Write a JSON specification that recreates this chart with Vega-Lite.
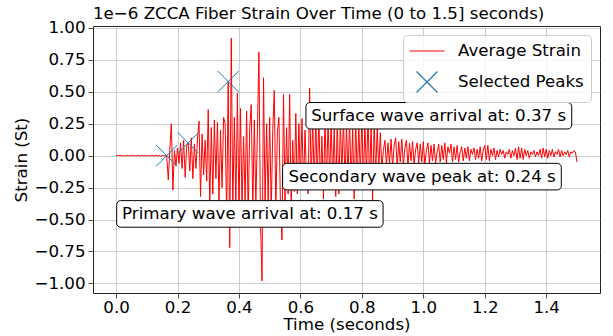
{
  "$schema": "https://vega.github.io/schema/vega-lite/v6.json",
  "autosize": {"type": "none"},
  "width": 507,
  "height": 267,
  "padding": {"left": 93, "top": 26, "right": 13, "bottom": 43},
  "title": {"text": "1e−6 ZCCA Fiber Strain Over Time (0 to 1.5] seconds)", "fontSize": 16.67, "fontWeight": "normal", "font": "DejaVu Sans", "color": "black", "frame": "group", "anchor": "start", "baseline": "alphabetic", "offset": -16},
  "config": {
    "font": "DejaVu Sans",
    "view": {"stroke": "#222", "strokeWidth": 1},
    "axis": {"labelFont": "DejaVu Sans", "titleFont": "DejaVu Sans", "labelFontSize": 16.67, "titleFontSize": 16.67, "titleFontWeight": "normal", "labelColor": "black", "titleColor": "black", "tickColor": "#222", "tickSize": 5, "tickWidth": 0.8, "labelPadding": 3, "labelOverlap": false, "domain": false, "grid": true, "gridColor": "#b0b0b0", "gridWidth": 0.8, "gridOpacity": 0.8}
  },
  "datasets": {
    "sig": [
      {"t":0.000,"s":0.000},{"t":0.005,"s":0.003},{"t":0.010,"s":-0.002},{"t":0.015,"s":0.004},{"t":0.020,"s":-0.003},{"t":0.025,"s":0.002},{"t":0.030,"s":-0.004},{"t":0.035,"s":0.003},{"t":0.040,"s":0.001},{"t":0.045,"s":-0.003},
      {"t":0.050,"s":0.004},{"t":0.055,"s":-0.002},{"t":0.060,"s":0.003},{"t":0.065,"s":-0.004},{"t":0.070,"s":0.002},{"t":0.075,"s":0.001},{"t":0.080,"s":-0.003},{"t":0.085,"s":0.004},{"t":0.090,"s":-0.002},{"t":0.095,"s":0.003},
      {"t":0.100,"s":-0.003},{"t":0.105,"s":0.002},{"t":0.110,"s":-0.004},{"t":0.115,"s":0.003},{"t":0.120,"s":0.001},{"t":0.125,"s":-0.002},{"t":0.130,"s":0.004},{"t":0.135,"s":-0.003},{"t":0.140,"s":0.002},{"t":0.145,"s":-0.004},
      {"t":0.150,"s":0.003},{"t":0.155,"s":-0.002},{"t":0.160,"s":0.001},{"t":0.165,"s":0.00},{"t":0.170,"s":-0.19},{"t":0.175,"s":0.05},{"t":0.180,"s":0.25},{"t":0.185,"s":-0.27},{"t":0.190,"s":0.04},{"t":0.195,"s":-0.08},
      {"t":0.200,"s":0.06},{"t":0.205,"s":-0.06},{"t":0.210,"s":0.10},{"t":0.215,"s":-0.10},{"t":0.220,"s":0.12},{"t":0.225,"s":-0.17},{"t":0.230,"s":0.08},{"t":0.235,"s":0.10},{"t":0.240,"s":-0.12},{"t":0.245,"s":0.14},
      {"t":0.250,"s":-0.18},{"t":0.255,"s":0.09},{"t":0.260,"s":-0.10},{"t":0.265,"s":0.13},{"t":0.270,"s":0.27},{"t":0.275,"s":-0.32},{"t":0.280,"s":0.17},{"t":0.285,"s":-0.15},{"t":0.290,"s":0.12},{"t":0.295,"s":-0.20},
      {"t":0.300,"s":0.36},{"t":0.305,"s":-0.40},{"t":0.310,"s":0.22},{"t":0.315,"s":-0.30},{"t":0.320,"s":0.28},{"t":0.325,"s":-0.18},{"t":0.330,"s":0.26},{"t":0.335,"s":-0.35},{"t":0.340,"s":0.20},{"t":0.345,"s":-0.25},
      {"t":0.350,"s":0.30},{"t":0.355,"s":0.25},{"t":0.360,"s":-0.48},{"t":0.365,"s":0.58},{"t":0.370,"s":-0.72},{"t":0.375,"s":0.92},{"t":0.380,"s":-0.42},{"t":0.385,"s":0.30},{"t":0.390,"s":-0.38},{"t":0.395,"s":0.49},
      {"t":0.400,"s":-0.45},{"t":0.405,"s":0.37},{"t":0.410,"s":-0.40},{"t":0.415,"s":0.15},{"t":0.420,"s":-0.35},{"t":0.425,"s":0.35},{"t":0.430,"s":-0.48},{"t":0.435,"s":0.22},{"t":0.440,"s":0.40},{"t":0.445,"s":-0.42},
      {"t":0.450,"s":0.28},{"t":0.455,"s":-0.38},{"t":0.460,"s":0.18},{"t":0.465,"s":0.81},{"t":0.470,"s":-0.50},{"t":0.475,"s":-0.98},{"t":0.480,"s":0.61},{"t":0.485,"s":-0.40},{"t":0.490,"s":0.25},{"t":0.495,"s":-0.36},
      {"t":0.500,"s":0.30},{"t":0.505,"s":-0.45},{"t":0.510,"s":0.20},{"t":0.515,"s":0.51},{"t":0.520,"s":-0.42},{"t":0.525,"s":0.18},{"t":0.530,"s":0.30},{"t":0.535,"s":-0.38},{"t":0.540,"s":-0.66},{"t":0.545,"s":0.48},
      {"t":0.550,"s":-0.36},{"t":0.555,"s":0.22},{"t":0.560,"s":-0.30},{"t":0.565,"s":0.48},{"t":0.570,"s":-0.40},{"t":0.575,"s":0.12},{"t":0.580,"s":-0.28},{"t":0.585,"s":0.33},{"t":0.590,"s":-0.30},{"t":0.595,"s":0.25},
      {"t":0.600,"s":-0.22},{"t":0.605,"s":0.29},{"t":0.610,"s":-0.26},{"t":0.615,"s":0.20},{"t":0.620,"s":-0.18},{"t":0.625,"s":-0.30},{"t":0.630,"s":0.53},{"t":0.635,"s":-0.22},{"t":0.640,"s":0.28},{"t":0.645,"s":-0.25},
      {"t":0.650,"s":0.30},{"t":0.655,"s":-0.20},{"t":0.660,"s":0.32},{"t":0.665,"s":-0.24},{"t":0.670,"s":0.15},{"t":0.675,"s":-0.34},{"t":0.680,"s":0.30},{"t":0.685,"s":-0.22},{"t":0.690,"s":0.28},{"t":0.695,"s":-0.18},
      {"t":0.700,"s":0.26},{"t":0.705,"s":-0.20},{"t":0.710,"s":0.22},{"t":0.715,"s":-0.32},{"t":0.720,"s":0.30},{"t":0.725,"s":-0.30},{"t":0.730,"s":0.27},{"t":0.735,"s":-0.15},{"t":0.740,"s":0.31},{"t":0.745,"s":-0.22},
      {"t":0.750,"s":0.24},{"t":0.755,"s":-0.18},{"t":0.760,"s":0.29},{"t":0.765,"s":-0.24},{"t":0.770,"s":0.22},{"t":0.775,"s":-0.34},{"t":0.780,"s":0.28},{"t":0.785,"s":-0.20},{"t":0.790,"s":0.25},{"t":0.795,"s":-0.16},
      {"t":0.800,"s":0.30},{"t":0.805,"s":-0.22},{"t":0.810,"s":0.26},{"t":0.815,"s":-0.18},{"t":0.820,"s":0.32},{"t":0.825,"s":-0.20},{"t":0.830,"s":0.24},{"t":0.835,"s":-0.35},{"t":0.840,"s":0.27},{"t":0.845,"s":-0.15},
      {"t":0.850,"s":0.22},{"t":0.855,"s":-0.12},{"t":0.860,"s":0.18},{"t":0.865,"s":-0.10},{"t":0.870,"s":0.04},{"t":0.875,"s":0.12},{"t":0.880,"s":-0.08},{"t":0.885,"s":0.10},{"t":0.890,"s":-0.06},{"t":0.895,"s":0.13},
      {"t":0.900,"s":-0.09},{"t":0.905,"s":0.08},{"t":0.910,"s":0.14},{"t":0.915,"s":-0.10},{"t":0.920,"s":0.11},{"t":0.925,"s":-0.05},{"t":0.930,"s":0.13},{"t":0.935,"s":-0.08},{"t":0.940,"s":0.06},{"t":0.945,"s":0.12},
      {"t":0.950,"s":-0.09},{"t":0.955,"s":0.10},{"t":0.960,"s":-0.04},{"t":0.965,"s":0.11},{"t":0.970,"s":-0.07},{"t":0.975,"s":0.05},{"t":0.980,"s":0.10},{"t":0.985,"s":-0.06},{"t":0.990,"s":0.09},{"t":0.995,"s":-0.05},
      {"t":1.000,"s":0.11},{"t":1.005,"s":-0.07},{"t":1.010,"s":0.04},{"t":1.015,"s":0.10},{"t":1.020,"s":-0.06},{"t":1.025,"s":0.08},{"t":1.030,"s":-0.04},{"t":1.035,"s":0.09},{"t":1.040,"s":-0.06},{"t":1.045,"s":0.03},
      {"t":1.050,"s":0.09},{"t":1.055,"s":-0.05},{"t":1.060,"s":0.08},{"t":1.065,"s":-0.03},{"t":1.070,"s":0.10},{"t":1.075,"s":-0.06},{"t":1.080,"s":0.07},{"t":1.085,"s":0.02},{"t":1.090,"s":0.09},{"t":1.095,"s":-0.05},
      {"t":1.100,"s":0.07},{"t":1.105,"s":-0.03},{"t":1.110,"s":0.08},{"t":1.115,"s":-0.05},{"t":1.120,"s":0.03},{"t":1.125,"s":0.07},{"t":1.130,"s":-0.04},{"t":1.135,"s":0.06},{"t":1.140,"s":-0.02},{"t":1.145,"s":0.07},
      {"t":1.150,"s":-0.04},{"t":1.155,"s":0.05},{"t":1.160,"s":0.01},{"t":1.165,"s":0.06},{"t":1.170,"s":-0.03},{"t":1.175,"s":0.05},{"t":1.180,"s":-0.02},{"t":1.185,"s":0.07},{"t":1.190,"s":-0.04},{"t":1.195,"s":0.04},
      {"t":1.200,"s":0.08},{"t":1.205,"s":-0.03},{"t":1.210,"s":0.08},{"t":1.215,"s":-0.04},{"t":1.220,"s":0.05},{"t":1.225,"s":0.00},{"t":1.230,"s":0.06},{"t":1.235,"s":-0.03},{"t":1.240,"s":0.04},{"t":1.245,"s":-0.01},
      {"t":1.250,"s":0.05},{"t":1.255,"s":0.01},{"t":1.260,"s":0.04},{"t":1.265,"s":-0.02},{"t":1.270,"s":0.03},{"t":1.275,"s":0.01},{"t":1.280,"s":0.05},{"t":1.285,"s":-0.02},{"t":1.290,"s":0.04},{"t":1.295,"s":0.00},
      {"t":1.300,"s":0.06},{"t":1.305,"s":-0.03},{"t":1.310,"s":0.07},{"t":1.315,"s":-0.02},{"t":1.320,"s":0.06},{"t":1.325,"s":-0.03},{"t":1.330,"s":0.05},{"t":1.335,"s":0.00},{"t":1.340,"s":0.04},{"t":1.345,"s":-0.02},
      {"t":1.350,"s":0.03},{"t":1.355,"s":0.01},{"t":1.360,"s":0.04},{"t":1.365,"s":-0.01},{"t":1.370,"s":0.03},{"t":1.375,"s":0.00},{"t":1.380,"s":0.05},{"t":1.385,"s":-0.02},{"t":1.390,"s":0.06},{"t":1.395,"s":-0.01},
      {"t":1.400,"s":0.05},{"t":1.405,"s":-0.02},{"t":1.410,"s":0.04},{"t":1.415,"s":0.00},{"t":1.420,"s":0.05},{"t":1.425,"s":-0.01},{"t":1.430,"s":0.03},{"t":1.435,"s":0.01},{"t":1.440,"s":0.05},{"t":1.445,"s":-0.01},
      {"t":1.450,"s":0.04},{"t":1.455,"s":0.00},{"t":1.460,"s":0.03},{"t":1.465,"s":0.01},{"t":1.470,"s":0.04},{"t":1.475,"s":-0.01},{"t":1.480,"s":0.03},{"t":1.485,"s":0.02},{"t":1.490,"s":0.04},{"t":1.495,"s":0.03},
      {"t":1.500,"s":-0.05}
    ],
    "peaks": [
      {"t":0.165,"s":0.00},{"t":0.235,"s":0.10},{"t":0.365,"s":0.58}
    ],
    "notes": [
      {"label":"Surface wave arrival at: 0.37 s","tx":1.050,"ty":0.3125,"x1":0.618,"x2":1.483,"y1":0.416,"y2":0.209},
      {"label":"Secondary wave peak at: 0.24 s","tx":0.996,"ty":-0.164,"x1":0.542,"x2":1.449,"y1":-0.060,"y2":-0.268},
      {"label":"Primary wave arrival at: 0.17 s","tx":0.436,"ty":-0.456,"x1":0.002,"x2":0.869,"y1":-0.352,"y2":-0.560}
    ]
  },
  "layer": [
    {
      "data": {"name": "sig"},
      "mark": {"type": "line", "strokeWidth": 1, "strokeJoin": "round"},
      "encoding": {
        "x": {"field": "t", "type": "quantitative", "scale": {"domain": [-0.075, 1.575], "nice": false, "zero": false}, "axis": {"values": [0, 0.2, 0.4, 0.6, 0.8, 1.0, 1.2, 1.4], "format": ".1f", "title": "Time (seconds)", "labelPadding": 1, "titlePadding": 1}},
        "y": {"field": "s", "type": "quantitative", "scale": {"domain": [-1.075, 1.015], "nice": false, "zero": false}, "axis": {"values": [-1, -0.75, -0.5, -0.25, 0, 0.25, 0.5, 0.75, 1], "format": ".2f", "title": "Strain (St)", "titlePadding": 3, "labelOverlap": false, "tickCount": 9}},
        "color": {"datum": "Average Strain", "type": "nominal", "scale": {"domain": ["Average Strain", "Selected Peaks"], "range": ["#ff0000", "#1f77b4"]},
          "legend": {"title": null, "orient": "top-right", "offset": 9, "padding": 7, "symbolOffset": 8, "labelOffset": 22, "symbolSize": 256, "rowPadding": 9, "labelFontSize": 16.67, "labelFont": "DejaVu Sans", "labelColor": "black", "labelLimit": 300, "strokeColor": "#cccccc", "fillColor": "rgba(255,255,255,0.8)", "cornerRadius": 4,
            "encode": {"symbols": {"update": {
              "shape": {"signal": "datum.value == 'Average Strain' ? 'M-2.19,0L2.19,0' : 'M-1.31,-1.31L1.31,1.31M-1.31,1.31L1.31,-1.31'"},
              "fill": {"value": "transparent"},
              "stroke": {"signal": "datum.value == 'Average Strain' ? '#ff0000' : '#1f77b4'"},
              "strokeWidth": {"value": 1.2},
              "opacity": {"value": 1}
            }}}
          }
        }
      }
    },
    {
      "data": {"name": "peaks"},
      "mark": {"type": "point", "shape": "M-1,-1L1,1M-1,1L1,-1", "size": 441, "filled": false, "strokeWidth": 1, "opacity": 1},
      "encoding": {
        "x": {"field": "t", "type": "quantitative", "axis": {"values": [0, 0.2, 0.4, 0.6, 0.8, 1.0, 1.2, 1.4], "format": ".1f", "title": "Time (seconds)", "labelPadding": 1, "titlePadding": 1}},
        "y": {"field": "s", "type": "quantitative", "axis": {"values": [-1, -0.75, -0.5, -0.25, 0, 0.25, 0.5, 0.75, 1], "format": ".2f", "title": "Strain (St)", "titlePadding": 3, "labelOverlap": false, "tickCount": 9}},
        "color": {"datum": "Selected Peaks", "type": "nominal"}
      }
    },
    {
      "data": {"name": "notes"},
      "mark": {"type": "rect", "fill": "white", "stroke": "black", "strokeWidth": 1, "cornerRadius": 4},
      "encoding": {
        "x": {"field": "x1", "type": "quantitative", "axis": {"values": [0, 0.2, 0.4, 0.6, 0.8, 1.0, 1.2, 1.4], "format": ".1f", "title": "Time (seconds)", "labelPadding": 1, "titlePadding": 1}},
        "x2": {"field": "x2"},
        "y": {"field": "y1", "type": "quantitative", "axis": {"values": [-1, -0.75, -0.5, -0.25, 0, 0.25, 0.5, 0.75, 1], "format": ".2f", "title": "Strain (St)", "titlePadding": 3, "labelOverlap": false, "tickCount": 9}},
        "y2": {"field": "y2"}
      }
    },
    {
      "data": {"name": "notes"},
      "mark": {"type": "text", "fontSize": 16.67, "font": "DejaVu Sans", "color": "black", "align": "center", "baseline": "middle"},
      "encoding": {
        "x": {"field": "tx", "type": "quantitative", "axis": {"values": [0, 0.2, 0.4, 0.6, 0.8, 1.0, 1.2, 1.4], "format": ".1f", "title": "Time (seconds)", "labelPadding": 1, "titlePadding": 1}},
        "y": {"field": "ty", "type": "quantitative", "axis": {"values": [-1, -0.75, -0.5, -0.25, 0, 0.25, 0.5, 0.75, 1], "format": ".2f", "title": "Strain (St)", "titlePadding": 3, "labelOverlap": false, "tickCount": 9}},
        "text": {"field": "label"}
      }
    }
  ]
}
